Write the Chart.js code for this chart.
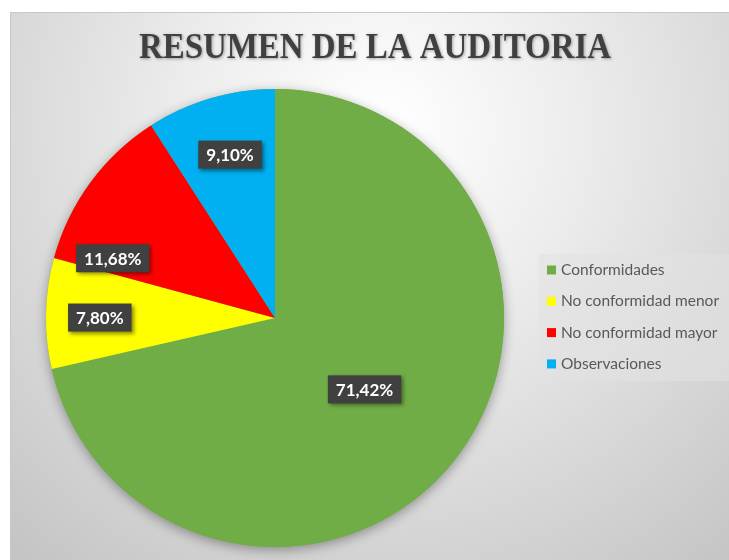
<!DOCTYPE html>
<html>
<head>
<meta charset="utf-8">
<script src="https://cdn.jsdelivr.net/npm/chart.js@4/dist/chart.umd.min.js"></script>
<style>
  body { margin: 0; background: #fff; }
  canvas { display: block; }
</style>
</head>
<body>
<canvas id="myChart" width="729" height="560"></canvas>
<script>
// data
const titleText = "RESUMEN DE LA AUDITORIA"
const categories = ["Conformidades", "No conformidad menor", "No conformidad mayor", "Observaciones"]
const percentages = [71.42, 7.80, 11.68, 9.10]
const sliceColors = ["#70ad47", "#ffff00", "#ff0000", "#00b0f0"]

// where Excel put each data label: fraction of radius, angle nudge in degrees
const labelSpots = [
  { r: 0.50, da: 0 },
  { r: 0.765, da: -1 },
  { r: 0.755, da: -16 },
  { r: 0.74, da: 1 }
]

const fmt = v => v.toFixed(2).replace(".", ",") + "%"

const backdrop = {
  id: "backdrop",
  beforeDraw(chart) {
    const ctx = chart.ctx
    const W = chart.width, H = chart.height
    ctx.save()
    ctx.fillStyle = "#fff"
    ctx.fillRect(0, 0, W, H)
    const g = ctx.createRadialGradient(380, 130, 10, 380, 130, 560)
    g.addColorStop(0, "#ffffff")
    g.addColorStop(0.35, "#ececec")
    g.addColorStop(1, "#c4c4c4")
    ctx.fillStyle = g
    ctx.fillRect(10, 12, W - 10, H - 12)
    ctx.strokeStyle = "#c8c8c8"
    ctx.lineWidth = 1
    ctx.beginPath()
    ctx.moveTo(10.5, H)
    ctx.lineTo(10.5, 12.5)
    ctx.lineTo(W, 12.5)
    ctx.stroke()

    // title, a little condensed like the original
    ctx.font = "bold 35px 'Liberation Serif', 'Times New Roman', serif"
    ctx.textAlign = "center"
    ctx.textBaseline = "alphabetic"
    ctx.shadowColor = "rgba(0,0,0,0.35)"
    ctx.shadowBlur = 3
    ctx.shadowOffsetX = 1
    ctx.shadowOffsetY = 1
    ctx.fillStyle = "#404040"
    ctx.translate(375, 58)
    ctx.scale(0.94, 1)
    ctx.fillText(titleText, 0, 0)
    ctx.restore()
  },
  beforeDatasetsDraw(chart) {
    // soft shadow under the whole pie
    const arc = chart.getDatasetMeta(0).data[0]
    if (!arc) return
    const ctx = chart.ctx
    ctx.save()
    ctx.shadowColor = "rgba(0,0,0,0.35)"
    ctx.shadowBlur = 12
    ctx.shadowOffsetY = 3
    ctx.fillStyle = "#70ad47"
    ctx.beginPath()
    ctx.arc(arc.x, arc.y, arc.outerRadius, 0, Math.PI * 2)
    ctx.fill()
    ctx.restore()
  }
}

const sliceLabels = {
  id: "sliceLabels",
  afterDatasetsDraw(chart) {
    const ctx = chart.ctx
    const meta = chart.getDatasetMeta(0)
    const vals = chart.data.datasets[0].data
    ctx.save()
    ctx.font = "bold 17px Lato, 'Open Sans', sans-serif"
    ctx.textAlign = "center"
    ctx.textBaseline = "middle"
    meta.data.forEach((arc, i) => {
      const spot = labelSpots[i]
      const mid = (arc.startAngle + arc.endAngle) / 2 + spot.da * Math.PI / 180
      const rr = arc.outerRadius * spot.r
      const x = arc.x + Math.cos(mid) * rr
      const y = arc.y + Math.sin(mid) * rr
      const txt = fmt(vals[i])
      const w = ctx.measureText(txt).width + 16
      const h = 28
      ctx.shadowColor = "rgba(0,0,0,0.45)"
      ctx.shadowBlur = 4
      ctx.shadowOffsetX = 2
      ctx.shadowOffsetY = 2
      ctx.fillStyle = "#404040"
      ctx.fillRect(x - w / 2, y - h / 2, w, h)
      ctx.shadowColor = "transparent"
      ctx.fillStyle = "#ffffff"
      ctx.fillText(txt, x, y + 1)
    })
    ctx.restore()
  },
  afterDraw(chart) {
    // legend box on the right
    const ctx = chart.ctx
    ctx.save()
    ctx.fillStyle = "rgba(225,225,225,0.55)"
    ctx.fillRect(539, 254, 190, 127)
    ctx.font = "15.5px Lato, 'Open Sans', sans-serif"
    ctx.textAlign = "left"
    ctx.textBaseline = "middle"
    chart.data.labels.forEach((lab, i) => {
      const y = 270 + i * 31.3
      ctx.fillStyle = sliceColors[i]
      ctx.fillRect(547, y - 4.5, 9, 9)
      ctx.fillStyle = "#595959"
      ctx.fillText(lab, 561, y)
    })
    ctx.restore()
  }
}

const chart = new Chart(document.getElementById("myChart"), {
  type: "pie",
  data: {
    labels: categories,
    datasets: [{
      data: percentages,
      backgroundColor: sliceColors,
      borderWidth: 0
    }]
  },
  options: {
    responsive: false,
    animation: false,
    devicePixelRatio: 1,
    layout: { padding: { left: 46, right: 225, top: 89, bottom: 13 } },
    plugins: {
      legend: { display: false },
      tooltip: { enabled: false },
      title: { display: false }
    }
  },
  plugins: [backdrop, sliceLabels]
})
</script>
</body>
</html>
